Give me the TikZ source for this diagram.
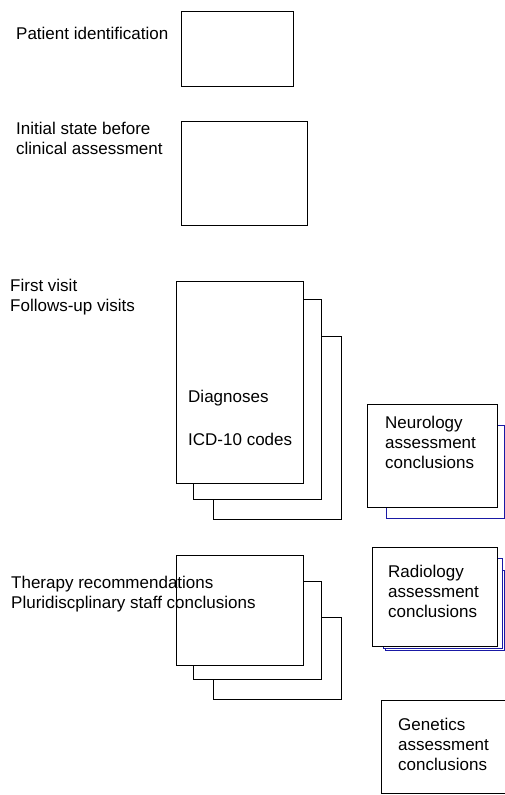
\documentclass[tikz,border=0pt]{standalone}
\usepackage{fontspec}
\setmainfont{Liberation Sans}
\usepackage{tikz}
\definecolor{PageBlue}{RGB}{25,25,165}
\tikzset{
  page/.style={draw=black,fill=white,line width=1.2pt,inner sep=0pt,anchor=north west},
  lbl/.style={anchor=base west,align=left,inner sep=0pt,
    font=\fontsize{17}{20}\selectfont},
}
\begin{document}
\begin{tikzpicture}[x=1pt,y=-1pt]
\useasboundingbox (0,0) rectangle (505,795);
\clip (0,0) rectangle (505,795);
% sheets, back to front
\foreach \nm/\col/\x/\y/\w/\h in {
  pid/black/181/11/112/75, init/black/181/121/126/104,
  diag3/black/213/336/128/183, diag2/black/193/299/128/200, diag1/black/176/281/127/202,
  neuro2/PageBlue/386/425/118/93, neuro1/black/367/404/130/103,
  radio3/PageBlue/385/570/119/80, radio2/PageBlue/383/558/119/90, radio1/black/372/547/125/99,
  ther3/black/213/617/128/82, ther2/black/193/581/128/98, ther1/black/176/555/127/110,
  gene/black/381/700/130/93}
  \node[page,draw=\col,minimum width=\w pt,minimum height=\h pt] (\nm) at (\x,\y) {};
% labels (anchored at the baseline of the last line)
\node[lbl] (tpid) at (16,39) {Patient identification};
\node[lbl] (tinit) at (16,154) {Initial state before\\clinical assessment};
\node[lbl] (tvisit) at (10,311) {First visit\\Follows-up visits};
\node[lbl] (tdiag) at (188,402) {Diagnoses};
\node[lbl] (ticd) at (188,445) {ICD-10 codes};
\node[lbl] (tneuro) at (385,468) {Neurology\\assessment\\conclusions};
\node[lbl] (tradio) at (388,617) {Radiology\\assessment\\conclusions};
\node[lbl] (tther) at (11,608) {Therapy recommendations\\Pluridiscplinary staff conclusions};
\node[lbl] (tgene) at (398,770) {Genetics\\assessment\\conclusions};
\end{tikzpicture}
\end{document}
